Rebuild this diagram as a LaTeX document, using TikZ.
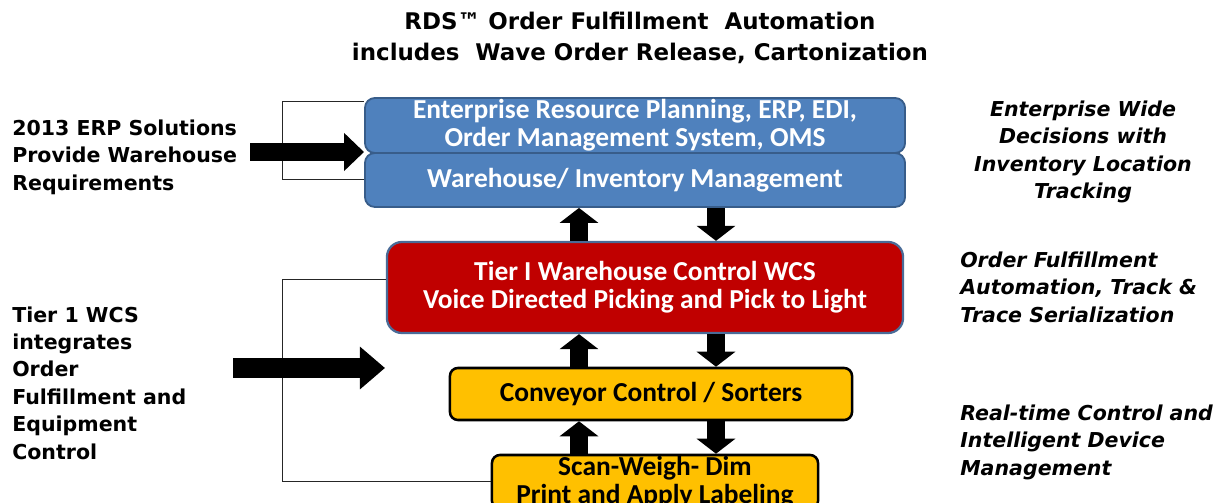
\documentclass[tikz,border=0pt]{standalone}
\usepackage{fontspec}
\setmainfont{DejaVu Sans}
\newfontfamily\boxfont{Carlito}
\usetikzlibrary{arrows.meta}
\definecolor{erpblue}{HTML}{4F81BD}
\definecolor{erpline}{HTML}{385D8A}
\definecolor{wcsred}{HTML}{C00000}
\definecolor{wcsline}{HTML}{4A6B97}
\definecolor{convyellow}{HTML}{FFC000}
\newcommand\sidefont{\fontsize{14.6}{19.5}\selectfont\bfseries}

\begin{document}
\begin{tikzpicture}[x=0.025cm,y=-0.025cm,
    box/.style={align=center,inner sep=0pt,font=\boxfont\fontsize{19.5}{20}\selectfont\bfseries},
    bluebox/.style={box,rounded corners=2.5mm,draw=erpline,fill=erpblue,line width=1.3pt,text=white},
    redbox/.style={box,rounded corners=3.75mm,draw=wcsline,fill=wcsred,line width=1.6pt,text=white},
    yellowbox/.style={box,rounded corners=2mm,draw=black,fill=convyellow,line width=1.8pt},
    fatarrow/.style={line width=4.5mm,-{Triangle[width=9.5mm,length=3.75mm]}},
    bracket/.style={draw=black!85,line width=0.6pt},
    side/.style={inner sep=0pt,font=\sidefont}]
  \useasboundingbox (0,0) rectangle (1224,503);
  \clip (0,0) rectangle (1224,503);

  \node[font=\fontsize{16.3}{22}\selectfont\bfseries,align=center] (title) at (640,37.5)
    {RDS™ Order Fulfillment\ \ Automation\\includes\ \ Wave Order Release, Cartonization};

  \node[bluebox,minimum width=13.5cm,minimum height=1.375cm] (erp) at (635,125.5)
    {Enterprise Resource Planning, ERP, EDI,\\Order Management System, OMS};
  \node[bluebox,minimum width=13.5cm,minimum height=1.35cm] (wh) at (635,180)
    {Warehouse/ Inventory Management};
  \node[redbox,minimum width=12.9cm,minimum height=2.275cm] (wcs) at (645,287.5)
    {Tier I Warehouse Control WCS\\Voice Directed Picking and Pick to Light};
  \node[yellowbox,minimum width=10.05cm,minimum height=1.3cm] (conv) at (651,394)
    {Conveyor Control / Sorters};
  \node[yellowbox,minimum width=8.15cm,minimum height=1.35cm] (scan) at (655,482)
    {Scan-Weigh- Dim\\Print and Apply Labeling};

  \coordinate (upx) at (579,0);
  \coordinate (downx) at (716,0);
  \foreach \lo/\hi in {wcs/wh,conv/wcs,scan/conv} {
    \draw[fatarrow] (\lo.north -| upx) -- (\hi.south -| upx);
    \draw[fatarrow] (\hi.south -| downx) -- (\lo.north -| downx);
  }

  \coordinate (erpbend) at (282,101);
  \coordinate (whbend) at (282,179);
  \draw[bracket] (erp.west |- erpbend) -- (erpbend) -- (whbend) -- (wh.west |- whbend);
  \coordinate (wcsbend) at (282,279);
  \coordinate (scanbend) at (282,481);
  \draw[bracket] (wcs.west |- wcsbend) -- (wcsbend) -- (scanbend) -- (scan.west |- scanbend);

  \coordinate (erptail) at (250,152);
  \draw[line width=4.5mm,-{Triangle[width=9.25mm,length=5mm]}] (erptail) -- (erptail -| erp.west);
  \coordinate (wcstail) at (233,368);
  \coordinate (wcshead) at (385,368);
  \draw[line width=5mm,-{Triangle[width=10.25mm,length=6.25mm]}] (wcstail) -- (wcshead);

  \node[side,anchor=west,align=left] (erpnote) at (12,157)
    {2013 ERP Solutions\\Provide Warehouse\\Requirements};
  \node[side,anchor=west,align=left] (wcsnote) at (12,383)
    {Tier 1 WCS\\integrates\\Order\\Fulfillment and\\Equipment\\Control};

  \node[side,font=\sidefont\itshape,align=center] (erpgoal) at (1083,152)
    {Enterprise Wide\\Decisions with\\Inventory Location\\Tracking};
  \node[side,font=\sidefont\itshape,anchor=west,align=left] (wcsgoal) at (960,287)
    {Order Fulfillment\\Automation, Track \&\\Trace Serialization};
  \node[side,font=\sidefont\itshape,anchor=west,align=left] (convgoal) at (960,442)
    {Real-time Control and\\Intelligent Device\\Management};
\end{tikzpicture}
\end{document}
